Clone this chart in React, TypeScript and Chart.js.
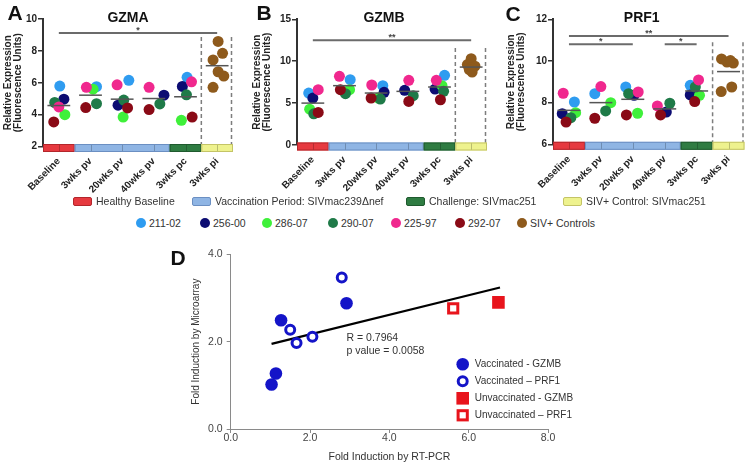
import React, { useEffect, useRef } from 'react';
import { Chart, registerables } from 'chart.js';

Chart.register(...registerables);
Chart.defaults.font.family = "'Liberation Sans', Arial, Helvetica, sans-serif";

// ---------- shared categories / subjects ----------
const categories = ['Baseline', '3wks pv', '20wks pv', '40wks pv', '3wks pc', '3wks pi'];
const phaseOfCategory = [0, 1, 1, 1, 2, 3];
const phaseLabels = ['Healthy Baseline', 'Vaccination Period: SIVmac239\u0394nef', 'Challenge: SIVmac251', 'SIV+ Control: SIVmac251'];
const phaseFill = ['#e6393f', '#8fb5e4', '#2f7c42', '#eef28e'];
const phaseEdge = ['#b3262b', '#6b8fc2', '#1f5a2e', '#c4c466'];
const subjects = ['211-02', '256-00', '286-07', '290-07', '225-97', '292-07'];
const subjectColors = ['#2f9cf0', '#0c0c72', '#3ff03a', '#1f7a48', '#f0288e', '#8a0a16'];
const controlLabel = 'SIV+ Controls';
const controlColor = '#8e5a1c';
const controlIndex = 5;

// ---------- GZMA (values per subject, Baseline..3wks pc) ----------
const gzma211 = [5.79, 5.75, 6.15, null, 6.34];
const gzma256 = [4.97, null, 4.59, 5.22, 5.77];
const gzma286 = [4.0, 5.6, 3.85, null, 3.64];
const gzma290 = [4.76, 4.69, 4.91, 4.67, 5.24];
const gzma225 = [4.48, 5.71, 5.87, 5.71, 6.06];
const gzma292 = [3.54, 4.44, 4.42, 4.32, 3.85];
const gzmaControls = [8.59, 7.85, 7.43, 6.69, 6.42, 5.71];
const gzmaMeans = [4.57, 5.22, 4.97, 5.01, 5.12, 7.07];
const gzmaJit211 = [0.03, 0.19, 0.21, 0, 0.05];
const gzmaJit256 = [0.16, 0, -0.13, 0.32, -0.1];
const gzmaJit286 = [0.19, 0.08, 0.03, 0, -0.13];
const gzmaJit290 = [-0.13, 0.19, 0.05, 0.19, 0.03];
const gzmaJit225 = [0, -0.13, -0.16, -0.15, 0.19];
const gzmaJit292 = [-0.16, -0.15, 0.17, -0.15, 0.21];
const gzmaJitControls = [0.03, 0.17, -0.13, 0.03, 0.21, -0.13];
const gzmaSig = [{ from: 0, to: 5, y: 9.12, label: '*' }];
const gzmaDashTop = 8.87;

// ---------- GZMB ----------
const gzmb211 = [6.2, 7.8, 7.08, null, 8.32];
const gzmb256 = [5.6, null, 6.28, 6.52, 6.68];
const gzmb286 = [4.28, 6.6, 5.6, null, 7.08];
const gzmb290 = [3.72, 6.12, 5.48, 5.88, 6.4];
const gzmb225 = [6.6, 8.2, 7.16, 7.72, 7.72];
const gzmb292 = [3.88, 6.6, 5.6, 5.2, 5.4];
const gzmbControls = [10.3, 9.6, 9.4, 9.2, 9.0, 8.7];
const gzmbMeans = [5.0, 7.08, 6.2, 6.4, 6.92, 9.3];
const gzmbJit211 = [-0.13, 0.18, 0.21, 0, 0.16];
const gzmbJit256 = [0, 0, 0.25, -0.1, -0.14];
const gzmbJit286 = [-0.1, 0.16, 0.07, 0, 0.08];
const gzmbJit290 = [0.03, 0.03, 0.13, 0.17, 0.13];
const gzmbJit225 = [0.17, -0.16, -0.14, 0.03, -0.1];
const gzmbJit292 = [0.17, -0.13, -0.16, 0.03, 0.03];
const gzmbJitControls = [0, -0.12, 0.12, 0, -0.06, 0.03];
const gzmbSig = [{ from: 0, to: 5, y: 12.5, label: '**' }];
const gzmbDashTop = 11.57;

// ---------- PRF1 ----------
const prf211 = [8.03, 8.43, 8.75, null, 8.83];
const prf256 = [7.47, null, 8.35, 7.55, 8.37];
const prf286 = [7.52, 8.0, 7.49, null, 8.35];
const prf290 = [7.28, 7.6, 8.43, 7.97, 8.75];
const prf225 = [8.45, 8.77, 8.51, 7.84, 9.09];
const prf292 = [7.07, 7.25, 7.41, 7.41, 8.05];
const prfControls = [10.1, 9.95, 9.9, 10.02, 8.53, 8.75];
const prfMeans = [7.63, 8.0, 8.16, 7.7, 8.56, 9.49];
const prfJit211 = [0.17, -0.19, -0.22, 0, -0.2];
const prfJit256 = [-0.21, 0, 0.04, 0.05, -0.2];
const prfJit286 = [0.21, 0.31, 0.15, 0, 0.09];
const prfJit290 = [0.06, 0.15, -0.13, 0.16, -0.04];
const prfJit225 = [-0.18, 0, 0.17, -0.23, 0.06];
const prfJit292 = [-0.09, -0.19, -0.2, -0.13, -0.06];
const prfJitControls = [-0.22, -0.05, 0.15, 0.06, -0.23, 0.1];
const prfSig = [
  { from: 0, to: 5, y: 11.2, label: '**' },
  { from: 0, to: 2, y: 10.8, label: '*' },
  { from: 3, to: 4, y: 10.8, label: '*' },
];
const prfDashTop = 10.9;

// ---------- Panel D ----------
const dLabels = ['Vaccinated - GZMB', 'Vaccinated \u2013 PRF1', 'Unvaccinated - GZMB', 'Unvaccinated \u2013 PRF1'];
const vaccGzmbX = [1.27, 2.92, 1.14, 1.03];
const vaccGzmbY = [2.49, 2.88, 1.27, 1.02];
const vaccPrf1X = [2.8, 1.5, 1.66, 2.06];
const vaccPrf1Y = [3.47, 2.27, 1.97, 2.11];
const unvGzmbX = [6.75];
const unvGzmbY = [2.9];
const unvPrf1X = [5.61];
const unvPrf1Y = [2.76];
const fitX = [1.03, 6.79];
const fitY = [1.95, 3.24];
const rText = 'R = 0.7964';
const pText = 'p value = 0.0058';

const BLUE = '#1414c8';
const RED = '#e8141c';

// ---------- helpers ----------
function phaseSegments() {
  const segs: { phase: number; from: number; to: number }[] = [];
  phaseOfCategory.forEach((ph, i) => {
    const last = segs[segs.length - 1];
    if (last && last.phase === ph) last.to = i + 0.5;
    else segs.push({ phase: ph, from: i - 0.5, to: i + 0.5 });
  });
  return segs;
}

type PanelSpec = {
  letter: string;
  title: string;
  width: number;
  height: number;
  area: { left: number; right: number; top: number; bottom: number };
  yMin: number;
  yMax: number;
  yStep: number;
  yTitlePad: number;
  letterX: number;
  letterY: number;
  titleDx: number;
  values: (number | null)[][];
  jitter: number[][];
  controls: number[];
  controlJitter: number[];
  means: number[];
  sig: { from: number; to: number; y: number; label: string }[];
  dashTop: number;
};

function makePanelPlugin(p: PanelSpec) {
  return {
    id: 'panelDecor',
    beforeDatasetsDraw(chart: any) {
      const { ctx, chartArea: ca, scales } = chart;
      const x = scales.x, y = scales.y;
      ctx.save();
      ctx.strokeStyle = '#7d7d7d';
      ctx.lineWidth = 1.5;
      ctx.setLineDash([4, 3]);
      for (const b of [controlIndex - 0.5, controlIndex + 0.5]) {
        const px = x.getPixelForValue(b) - (b > controlIndex ? 1.5 : 0);
        ctx.beginPath();
        ctx.moveTo(px, y.getPixelForValue(p.dashTop));
        ctx.lineTo(px, ca.bottom);
        ctx.stroke();
      }
      ctx.restore();
    },
    afterDatasetsDraw(chart: any) {
      const { ctx, scales } = chart;
      const x = scales.x, y = scales.y;
      ctx.save();
      ctx.strokeStyle = '#555';
      ctx.lineWidth = 1.5;
      p.means.forEach((m, i) => {
        const py = y.getPixelForValue(m);
        ctx.beginPath();
        ctx.moveTo(x.getPixelForValue(i - 0.36), py);
        ctx.lineTo(x.getPixelForValue(i + 0.36), py);
        ctx.stroke();
      });
      ctx.strokeStyle = '#6b6b6b';
      ctx.lineWidth = 2;
      ctx.fillStyle = '#444';
      ctx.font = "bold 9px 'Liberation Sans', Arial, sans-serif";
      ctx.textAlign = 'center';
      ctx.textBaseline = 'bottom';
      for (const s of p.sig) {
        const py = y.getPixelForValue(s.y);
        const x0 = x.getPixelForValue(s.from);
        const x1 = x.getPixelForValue(s.to);
        ctx.beginPath();
        ctx.moveTo(x0, py);
        ctx.lineTo(x1, py);
        ctx.stroke();
        ctx.fillText(s.label, (x0 + x1) / 2, py + 2);
      }
      ctx.restore();
    },
    afterDraw(chart: any) {
      const { ctx, chartArea: ca, scales } = chart;
      const x = scales.x;
      ctx.save();
      const top = ca.bottom - 2.5;
      const h = 8;
      for (const seg of phaseSegments()) {
        const x0 = x.getPixelForValue(seg.from);
        const x1 = x.getPixelForValue(seg.to);
        ctx.fillStyle = phaseFill[seg.phase];
        ctx.fillRect(x0, top, x1 - x0, h);
        ctx.strokeStyle = phaseEdge[seg.phase];
        ctx.lineWidth = 1;
        ctx.strokeRect(x0 + 0.5, top + 0.5, x1 - x0 - 1, h - 1);
      }
      ctx.strokeStyle = 'rgba(0,0,0,0.22)';
      categories.forEach((_c, i) => {
        const px = Math.round(x.getPixelForValue(i)) + 0.5;
        ctx.beginPath();
        ctx.moveTo(px, top + 1);
        ctx.lineTo(px, top + h - 1);
        ctx.stroke();
      });
      ctx.fillStyle = '#111';
      ctx.textAlign = 'center';
      ctx.textBaseline = 'middle';
      ctx.font = "bold 21px 'Liberation Sans', Arial, sans-serif";
      ctx.fillText(p.letter, p.letterX, p.letterY);
      ctx.font = "bold 14px 'Liberation Sans', Arial, sans-serif";
      ctx.fillText(p.title, (ca.left + ca.right) / 2 + p.titleDx, 18);
      ctx.restore();
    },
  };
}

function panelConfig(p: PanelSpec) {
  const datasets: any[] = subjects.map((name, s) => ({
    label: name,
    data: p.values[s]
      .map((v, i) => (v == null ? null : { x: i + p.jitter[s][i], y: v }))
      .filter((d) => d !== null),
    backgroundColor: subjectColors[s],
    borderWidth: 0,
    pointRadius: 5.5,
    pointHoverRadius: 5.5,
    order: subjects.length - s + 1,
  }));
  datasets.push({
    label: controlLabel,
    data: p.controls.map((v, k) => ({ x: controlIndex + p.controlJitter[k], y: v })),
    backgroundColor: controlColor,
    borderWidth: 0,
    pointRadius: 5.5,
    pointHoverRadius: 5.5,
    order: 0,
  });
  const bold10 = { size: 10, weight: 'bold' as const };
  return {
    type: 'scatter' as const,
    data: { datasets },
    options: {
      responsive: false,
      animation: false as const,
      events: [],
      layout: { padding: { left: 0, top: p.area.top, right: p.width - p.area.right, bottom: 0 } },
      plugins: { legend: { display: false }, tooltip: { enabled: false } },
      scales: {
        x: {
          type: 'linear' as const,
          min: -0.5,
          max: categories.length - 0.5,
          afterBuildTicks: (s: any) => {
            s.ticks = categories.map((_c, i) => ({ value: i }));
          },
          afterFit: (s: any) => {
            s.height = p.height - p.area.bottom;
          },
          grid: { display: false, drawTicks: false },
          border: { display: false },
          ticks: {
            autoSkip: false,
            minRotation: 45,
            maxRotation: 45,
            padding: 9,
            color: '#222',
            font: bold10,
            callback: (_v: any, i: number) => categories[i],
          },
        },
        y: {
          min: p.yMin,
          max: p.yMax,
          afterFit: (s: any) => {
            s.width = p.area.left;
          },
          ticks: { stepSize: p.yStep, color: '#222', font: bold10, padding: 1 },
          grid: { drawOnChartArea: false, drawTicks: true, tickLength: 5, color: '#333', lineWidth: 1.5 },
          border: { color: '#333', width: 2 },
          title: {
            display: true,
            text: ['Relative Expression', '(Fluorescence Units)'],
            color: '#222',
            font: { size: 10, weight: 'bold' as const, lineHeight: 1 },
            padding: { top: p.yTitlePad, bottom: 0 },
          },
        },
      },
    },
    plugins: [makePanelPlugin(p)],
  };
}

const panelA: PanelSpec = {
  letter: 'A', title: 'GZMA', width: 250, height: 200,
  area: { left: 43, right: 233, top: 19, bottom: 146.5 },
  yMin: 2, yMax: 10, yStep: 2, yTitlePad: 3, letterX: 15, letterY: 14.5, titleDx: -10,
  values: [gzma211, gzma256, gzma286, gzma290, gzma225, gzma292],
  jitter: [gzmaJit211, gzmaJit256, gzmaJit286, gzmaJit290, gzmaJit225, gzmaJit292],
  controls: gzmaControls, controlJitter: gzmaJitControls, means: gzmaMeans, sig: gzmaSig, dashTop: gzmaDashTop,
};
const panelB: PanelSpec = {
  letter: 'B', title: 'GZMB', width: 250, height: 200,
  area: { left: 47, right: 237, top: 19.3, bottom: 145 },
  yMin: 0, yMax: 15, yStep: 5, yTitlePad: 2.5, letterX: 14, letterY: 14.5, titleDx: -8,
  values: [gzmb211, gzmb256, gzmb286, gzmb290, gzmb225, gzmb292],
  jitter: [gzmbJit211, gzmbJit256, gzmbJit286, gzmbJit290, gzmbJit225, gzmbJit292],
  controls: gzmbControls, controlJitter: gzmbJitControls, means: gzmbMeans, sig: gzmbSig, dashTop: gzmbDashTop,
};
const panelC: PanelSpec = {
  letter: 'C', title: 'PRF1', width: 250, height: 200,
  area: { left: 53, right: 245, top: 19.3, bottom: 144.3 },
  yMin: 6, yMax: 12, yStep: 2, yTitlePad: 6, letterX: 13, letterY: 15, titleDx: -7,
  values: [prf211, prf256, prf286, prf290, prf225, prf292],
  jitter: [prfJit211, prfJit256, prfJit286, prfJit290, prfJit225, prfJit292],
  controls: prfControls, controlJitter: prfJitControls, means: prfMeans, sig: prfSig, dashTop: prfDashTop,
};

// ---------- panel D ----------
function drawMarker(ctx: CanvasRenderingContext2D, kind: number, cx: number, cy: number) {
  ctx.save();
  if (kind === 0) {
    ctx.fillStyle = BLUE;
    ctx.beginPath(); ctx.arc(cx, cy, 6.3, 0, Math.PI * 2); ctx.fill();
  } else if (kind === 1) {
    ctx.fillStyle = '#fff'; ctx.strokeStyle = BLUE; ctx.lineWidth = 3;
    ctx.beginPath(); ctx.arc(cx, cy, 4.5, 0, Math.PI * 2); ctx.fill(); ctx.stroke();
  } else if (kind === 2) {
    ctx.fillStyle = RED;
    ctx.fillRect(cx - 6.3, cy - 6.3, 12.6, 12.6);
  } else {
    ctx.fillStyle = '#fff'; ctx.strokeStyle = RED; ctx.lineWidth = 3;
    ctx.fillRect(cx - 4.6, cy - 4.6, 9.2, 9.2);
    ctx.strokeRect(cx - 4.6, cy - 4.6, 9.2, 9.2);
  }
  ctx.restore();
}

const dPlugin = {
  id: 'dDecor',
  afterDraw(chart: any) {
    const { ctx, chartArea: ca, scales } = chart;
    const x = scales.x, y = scales.y;
    ctx.save();
    ctx.fillStyle = '#111';
    ctx.textAlign = 'center';
    ctx.textBaseline = 'middle';
    ctx.font = "bold 21px 'Liberation Sans', Arial, sans-serif";
    ctx.fillText('D', 28, 19.5);
    ctx.font = "10.5px 'Liberation Sans', Arial, sans-serif";
    ctx.fillStyle = '#333';
    ctx.textAlign = 'left';
    const rx = x.getPixelForValue(2.92);
    const ry = y.getPixelForValue(2.08);
    ctx.fillText(rText, rx, ry);
    ctx.fillText(pText, rx, ry + 13);
    ctx.font = "10px 'Liberation Sans', Arial, sans-serif";
    dLabels.forEach((lab, k) => {
      const cy = ca.top + 110 + k * 17;
      const cx = ca.left + 232;
      drawMarker(ctx, k, cx, cy);
      ctx.fillStyle = '#333';
      ctx.fillText(lab, cx + 12, cy);
    });
    ctx.restore();
  },
};

function dConfig() {
  const zip = (xs: number[], ys: number[]) => xs.map((v, i) => ({ x: v, y: ys[i] }));
  const axisFont = { size: 10.5 };
  return {
    type: 'scatter' as const,
    data: {
      datasets: [
        { label: dLabels[0], data: zip(vaccGzmbX, vaccGzmbY), pointStyle: 'circle', pointRadius: 6.3, backgroundColor: BLUE, borderWidth: 0, order: 1 },
        { label: dLabels[1], data: zip(vaccPrf1X, vaccPrf1Y), pointStyle: 'circle', pointRadius: 4.5, backgroundColor: '#fff', borderColor: BLUE, borderWidth: 3, order: 1 },
        { label: dLabels[2], data: zip(unvGzmbX, unvGzmbY), pointStyle: 'rect', pointRadius: 8.9, backgroundColor: RED, borderWidth: 0, order: 1 },
        { label: dLabels[3], data: zip(unvPrf1X, unvPrf1Y), pointStyle: 'rect', pointRadius: 6.5, backgroundColor: '#fff', borderColor: RED, borderWidth: 3, order: 1 },
        { label: 'fit', data: zip(fitX, fitY), showLine: true, pointRadius: 0, borderColor: '#000', borderWidth: 2.2, order: 5 },
      ],
    },
    options: {
      responsive: false,
      animation: false as const,
      events: [],
      layout: { padding: { left: 0, top: 14.3, right: 52, bottom: 0 } },
      plugins: { legend: { display: false }, tooltip: { enabled: false } },
      scales: {
        x: {
          type: 'linear' as const,
          min: 0, max: 8,
          afterFit: (s: any) => { s.height = 36; },
          ticks: { stepSize: 2, color: '#444', font: axisFont, padding: -1, callback: (v: any) => Number(v).toFixed(1) },
          grid: { drawOnChartArea: false, tickLength: 4, color: '#8a8a8a' },
          border: { color: '#8a8a8a', width: 1 },
          title: { display: true, text: 'Fold Induction by RT-PCR', color: '#333', font: axisFont, padding: { top: 0, bottom: 2 } },
        },
        y: {
          min: 0, max: 4,
          afterFit: (s: any) => { s.width = 80.7; },
          ticks: { stepSize: 2, color: '#444', font: axisFont, padding: 4, callback: (v: any) => Number(v).toFixed(1) },
          grid: { drawOnChartArea: false, tickLength: 4, color: '#8a8a8a' },
          border: { color: '#8a8a8a', width: 1 },
          title: { display: true, text: 'Fold Induction by Microarray', color: '#333', font: { size: 10 }, padding: { top: 40, bottom: 0 } },
        },
      },
    },
    plugins: [dPlugin],
  };
}

// ---------- components ----------
function ChartBox(props: { left: number; top: number; width: number; height: number; build: () => any }) {
  const ref = useRef<HTMLCanvasElement | null>(null);
  useEffect(() => {
    if (!ref.current) return;
    const chart = new Chart(ref.current, props.build());
    return () => chart.destroy();
  }, []);
  return (
    <canvas
      ref={ref}
      width={props.width}
      height={props.height}
      style={{ position: 'absolute', left: props.left, top: props.top, width: props.width, height: props.height }}
    />
  );
}

const legendFont: React.CSSProperties = {
  position: 'absolute',
  fontFamily: "'Liberation Sans', Arial, sans-serif",
  fontSize: '10.5px',
  lineHeight: '12px',
  color: '#333',
  whiteSpace: 'nowrap',
};

function TopLegend() {
  const swatchX = [73, 192, 406, 563];
  const dotX = [141, 205, 267, 333, 396, 460, 522];
  const dotLabels = [...subjects, controlLabel];
  const dotColors = [...subjectColors, controlColor];
  return (
    <>
      {phaseLabels.map((lab, i) => (
        <React.Fragment key={lab}>
          <div
            style={{
              position: 'absolute', left: swatchX[i], top: 196.5, width: 17, height: 7,
              background: phaseFill[i], border: `1px solid ${phaseEdge[i]}`, borderRadius: 2,
            }}
          />
          <div style={{ ...legendFont, left: swatchX[i] + 23, top: 195 }}>{lab}</div>
        </React.Fragment>
      ))}
      {dotLabels.map((lab, i) => (
        <React.Fragment key={lab}>
          <div
            style={{
              position: 'absolute', left: dotX[i] - 5, top: 218, width: 10, height: 10,
              borderRadius: '50%', background: dotColors[i],
            }}
          />
          <div style={{ ...legendFont, left: dotX[i] + 8, top: 217 }}>{lab}</div>
        </React.Fragment>
      ))}
    </>
  );
}

export default function App() {
  return (
    <div style={{ position: 'fixed', left: 0, top: 0, width: 750, height: 465, background: '#fff', overflow: 'hidden' }}>
      <ChartBox left={0} top={0} width={250} height={200} build={() => panelConfig(panelA)} />
      <ChartBox left={250} top={0} width={250} height={200} build={() => panelConfig(panelB)} />
      <ChartBox left={500} top={0} width={250} height={200} build={() => panelConfig(panelC)} />
      <TopLegend />
      <ChartBox left={150} top={240} width={450} height={225} build={dConfig} />
    </div>
  );
}
